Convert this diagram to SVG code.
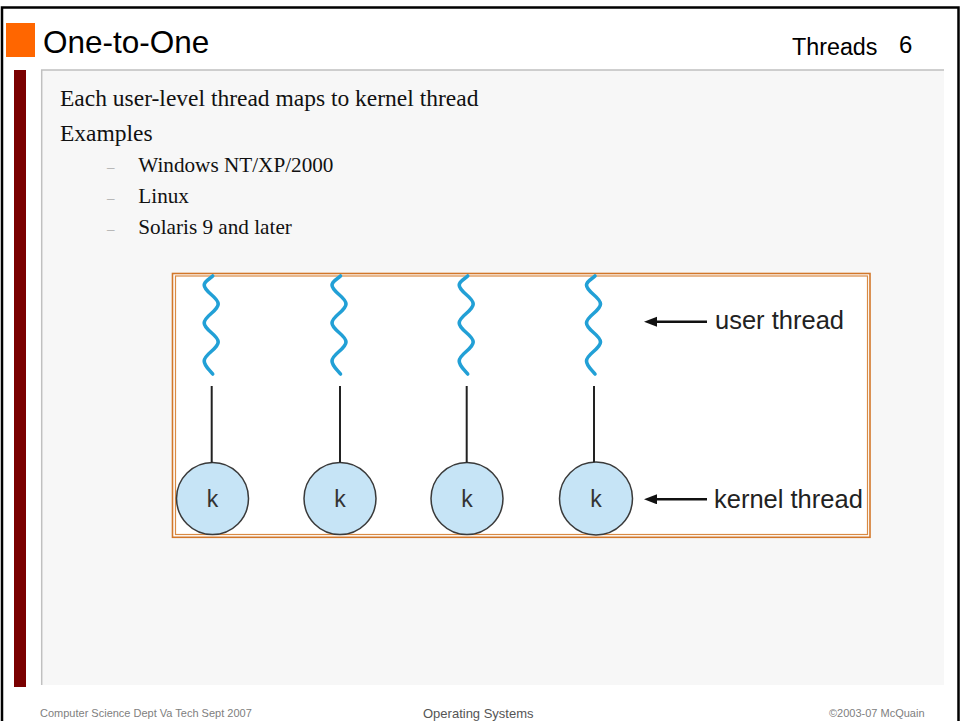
<svg xmlns="http://www.w3.org/2000/svg" width="961" height="721" viewBox="0 0 961 721">
<style>
.sans{font-family:"Liberation Sans",Arial,sans-serif}
.serif{font-family:"Liberation Serif","Times New Roman",serif;fill:#111}
.wave{fill:none;stroke:#22a0d6;stroke-width:3.6;stroke-linecap:round}
.kc{fill:#c6e4f6;stroke:#3a3a3a;stroke-width:1.5}
.kt{font-family:"Liberation Sans",Arial,sans-serif;font-size:23px;fill:#333;text-anchor:middle}
.vl{stroke:#222;stroke-width:2}
.la{stroke:#111;stroke-width:2.5;marker-end:url(#ah)}
.lbl{font-family:"Liberation Sans",Arial,sans-serif;font-size:25.5px;fill:#222}
.dash{font-family:"Liberation Serif","Times New Roman",serif;font-size:15px;fill:#aaa}
.foot{font-family:"Liberation Sans",Arial,sans-serif;font-size:11px;fill:#808080}
</style>
<defs>
<marker id="ah" markerUnits="userSpaceOnUse" markerWidth="14" markerHeight="11" refX="7" refY="5" orient="auto">
<path d="M0,0 L13,5 L0,10 z" fill="#111"/>
</marker>
<path id="wv" class="wave" d="M1,276 C-2,279 -7.5,281 -7.5,285 C-7.5,292 6.5,297 6.5,304 C6.5,311 -7.5,316 -7.5,323 C-7.5,330 6.5,335 6.5,342 C6.5,349 -7.5,354 -7.5,361 C-7.5,366 -2,370 1,374"/>
</defs>
<rect x="0" y="0" width="961" height="721" fill="#fff"/>
<g id="frame">
<rect x="2" y="7.5" width="956.5" height="730" fill="none" stroke="#000" stroke-width="2.5"/>
<rect x="41.5" y="70" width="902.5" height="615" fill="#f7f7f7"/>
<path d="M41.7,685 V70 H944" fill="none" stroke="#c0c0c0" stroke-width="1.5"/>
<rect x="14" y="70" width="12" height="617" fill="#7a0000"/>
<rect x="6" y="23" width="29" height="34" fill="#ff6600"/>
</g>
<g id="title">
<text class="sans" x="43" y="53" font-size="31.5" fill="#000">One-to-One</text>
<text class="sans" x="792" y="55" font-size="23.3" fill="#000">Threads</text>
<text class="sans" x="899" y="52.5" font-size="24" fill="#000">6</text>
</g>
<g id="bullets">
<text class="serif" x="60" y="105.5" font-size="23.5">Each user-level thread maps to kernel thread</text>
<text class="serif" x="60" y="140.5" font-size="23.5">Examples</text>
<text class="dash" x="107" y="172">–</text>
<text class="serif" x="138.3" y="172.3" font-size="21.2">Windows NT/XP/2000</text>
<text class="dash" x="107" y="203">–</text>
<text class="serif" x="138.3" y="203.3" font-size="21.2">Linux</text>
<text class="dash" x="107" y="234">–</text>
<text class="serif" x="138.3" y="234" font-size="21.2">Solaris 9 and later</text>
</g>
<g id="figure-frame">
<rect x="172.5" y="273.5" width="697.5" height="263.8" fill="#fff" stroke="#d2772a" stroke-width="1.6"/>
<rect x="175.5" y="276" width="692" height="258.5" fill="#fff" stroke="#d98a44" stroke-width="1.2"/>
</g>
<g id="user-thread-1"><use href="#wv" transform="translate(211.7,0)"/></g>
<g id="user-thread-2"><use href="#wv" transform="translate(339.5,0)"/></g>
<g id="user-thread-3"><use href="#wv" transform="translate(466.7,0)"/></g>
<g id="user-thread-4"><use href="#wv" transform="translate(594,0)"/></g>
<g id="kernel-thread-1"><circle class="kc" cx="212.5" cy="498.5" r="36"/><text class="kt" x="212.5" y="507">k</text></g>
<g id="kernel-thread-2"><circle class="kc" cx="340" cy="498.5" r="36"/><text class="kt" x="340" y="507">k</text></g>
<g id="kernel-thread-3"><circle class="kc" cx="467" cy="498.5" r="36"/><text class="kt" x="467" y="507">k</text></g>
<g id="kernel-thread-4"><circle class="kc" cx="596" cy="498.5" r="36.5"/><text class="kt" x="596" y="507">k</text></g>
<g id="connectors">
<line class="vl" x1="211.7" y1="386" x2="211.7" y2="462.5"/>
<line class="vl" x1="340" y1="386" x2="340" y2="462.5"/>
<line class="vl" x1="466.7" y1="386" x2="466.7" y2="462.5"/>
<line class="vl" x1="594" y1="386" x2="594" y2="462"/>
<line class="la" x1="707" y1="321.7" x2="650" y2="321.7"/>
<line class="la" x1="707" y1="499.3" x2="650" y2="499.3"/>
</g>
<g id="label-user-thread"><text class="lbl" x="715" y="329">user thread</text></g>
<g id="label-kernel-thread"><text class="lbl" x="714" y="508">kernel thread</text></g>
<g id="footer">
<text class="foot" x="40" y="717">Computer Science Dept Va Tech Sept 2007</text>
<text class="sans" x="423" y="718" font-size="13" fill="#555">Operating Systems</text>
<text class="foot" x="829" y="717">©2003-07  McQuain</text>
</g>
</svg>
